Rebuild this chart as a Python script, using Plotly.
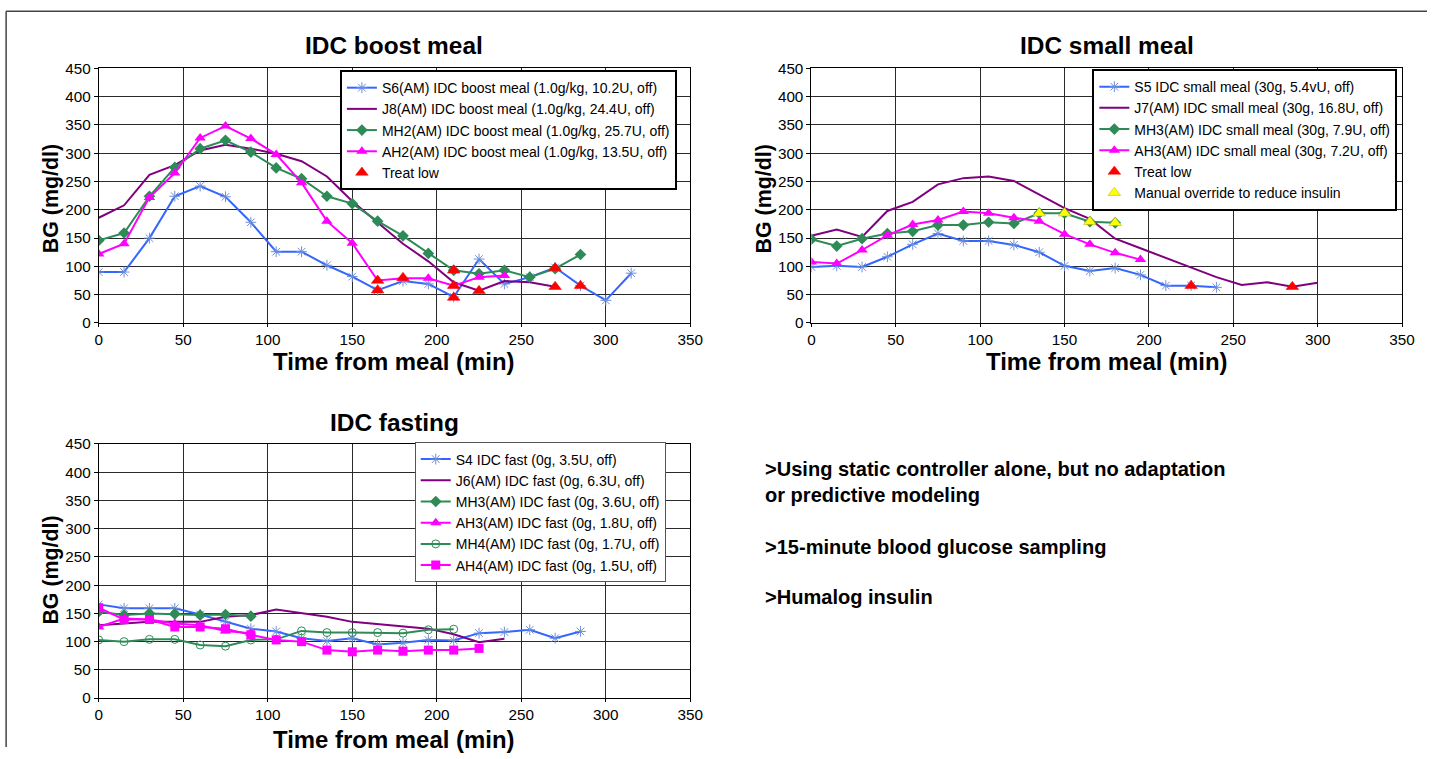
import plotly.graph_objects as go

# ---------------- Panel 1: IDC boost meal ----------------
s6_t = [0, 15, 30, 45, 60, 75, 90, 105, 120, 135, 150, 165, 180, 195, 210, 225, 240, 255, 270, 285, 300, 315]
s6_bg = [90, 90, 150, 224, 242, 223, 178, 126, 126, 102, 82, 58, 74, 69, 46, 113, 69, 81, 98, 66, 40, 88]
j8_t = [0, 15, 30, 45, 60, 75, 90, 105, 120, 135, 150, 165, 180, 195, 210, 225, 240, 255, 270]
j8_bg = [186, 208, 262, 279, 305, 315, 308, 299, 286, 259, 215, 177, 140, 109, 72, 57, 74, 72, 64]
mh2_t = [0, 15, 30, 45, 60, 75, 90, 105, 120, 135, 150, 165, 180, 195, 210, 225, 240, 255, 270, 285]
mh2_bg = [146, 159, 224, 275, 308, 323, 302, 274, 255, 224, 211, 180, 154, 123, 93, 87, 93, 81, 96, 121]
ah2_t = [0, 15, 30, 45, 60, 75, 90, 105, 120, 135, 150, 165, 180, 195, 210, 225, 240]
ah2_bg = [122, 140, 222, 265, 327, 348, 326, 298, 248, 180, 141, 75, 79, 79, 66, 81, 84]
low1_t = [165, 165, 180, 210, 210, 210, 225, 270, 270, 285]
low1_bg = [75, 58, 80, 93, 66, 45, 57, 97, 64, 66]

# ---------------- Panel 2: IDC small meal ----------------
s5_t = [0, 15, 30, 45, 60, 75, 90, 105, 120, 135, 150, 165, 180, 195, 210, 225, 240]
s5_bg = [99, 101, 99, 117, 139, 158, 145, 145, 138, 125, 101, 92, 97, 85, 66, 66, 63]
j7_t = [0, 15, 30, 45, 60, 75, 90, 105, 120, 135, 150, 165, 180, 195, 210, 225, 240, 255, 270, 285, 300]
j7_bg = [154, 165, 152, 198, 214, 245, 256, 259, 251, 227, 203, 184, 149, 132, 115, 99, 81, 67, 72, 64, 71]
mh3_t = [0, 15, 30, 45, 60, 75, 90, 105, 120, 135, 150, 165, 180]
mh3_bg = [148, 136, 149, 158, 162, 173, 173, 178, 176, 194, 194, 179, 177]
ah3_t = [0, 15, 30, 45, 60, 75, 90, 105, 120, 135, 150, 165, 180, 195]
ah3_bg = [108, 105, 129, 155, 174, 182, 197, 194, 186, 180, 157, 139, 124, 112]
low2_t = [225, 285]
low2_bg = [66, 64]
ovr_t = [135, 150, 165, 180]
ovr_bg = [194, 194, 179, 177]

# ---------------- Panel 3: IDC fasting ----------------
s4_t = [0, 15, 30, 45, 60, 75, 90, 105, 120, 135, 150, 165, 180, 195, 210, 225, 240, 255, 270, 285]
s4_bg = [166, 159, 159, 159, 148, 135, 123, 118, 106, 101, 106, 95, 98, 103, 102, 115, 117, 121, 106, 118]
j6_t = [0, 15, 30, 45, 60, 75, 90, 105, 120, 135, 150, 165, 180, 195, 210, 225, 240]
j6_bg = [129, 132, 135, 135, 135, 144, 147, 157, 150, 144, 135, 131, 127, 123, 113, 99, 105]
mh3f_t = [0, 15, 30, 45, 60, 75, 90]
mh3f_bg = [153, 147, 150, 149, 147, 148, 145]
ah3f_t = [0, 15, 30, 45, 60, 75, 90]
ah3f_bg = [126, 141, 139, 132, 129, 119, 115]
mh4_t = [0, 15, 30, 45, 60, 75, 90, 105, 120, 135, 150, 165, 180, 195, 210]
mh4_bg = [103, 100, 104, 104, 94, 92, 103, 104, 119, 116, 116, 116, 115, 121, 122]
ah4_t = [0, 15, 30, 45, 60, 75, 90, 105, 120, 135, 150, 165, 180, 195, 210, 225]
ah4_bg = [160, 139, 139, 126, 126, 123, 112, 103, 100, 85, 82, 85, 83, 85, 85, 88]

x_ticks = [0, 50, 100, 150, 200, 250, 300, 350]
y_ticks = [0, 50, 100, 150, 200, 250, 300, 350, 400, 450]

BLUE = "#3366FF"
PURPLE = "#800080"
GREEN = "#2E8B57"
MAGENTA = "#FF00FF"
RED = "#FF0000"
YELLOW = "#FFFF00"


def blue_tr(x, y, name, xa, ya, lg):
    return go.Scatter(x=x, y=y, name=name, mode="lines+markers", xaxis=xa, yaxis=ya, legend=lg,
                      line=dict(color=BLUE, width=2),
                      marker=dict(symbol="asterisk-open", size=9, color="#6f8fd8",
                                  line=dict(color="#6f8fd8", width=1)))


def purple_tr(x, y, name, xa, ya, lg):
    return go.Scatter(x=x, y=y, name=name, mode="lines", xaxis=xa, yaxis=ya, legend=lg,
                      line=dict(color=PURPLE, width=2))


def green_tr(x, y, name, xa, ya, lg, symbol="diamond"):
    if symbol == "circle-open":
        mk = dict(symbol="circle-open", size=8, color=GREEN, line=dict(color=GREEN, width=1))
    else:
        mk = dict(symbol="diamond", size=9, color=GREEN)
    return go.Scatter(x=x, y=y, name=name, mode="lines+markers", xaxis=xa, yaxis=ya, legend=lg,
                      line=dict(color=GREEN, width=2), marker=mk)


def magenta_tr(x, y, name, xa, ya, lg, symbol="triangle-up"):
    return go.Scatter(x=x, y=y, name=name, mode="lines+markers", xaxis=xa, yaxis=ya, legend=lg,
                      line=dict(color=MAGENTA, width=2),
                      marker=dict(symbol=symbol, size=10 if symbol == "triangle-up" else 9, color=MAGENTA))


def marker_tr(x, y, name, color, xa, ya, lg):
    return go.Scatter(x=x, y=y, name=name, mode="markers", xaxis=xa, yaxis=ya, legend=lg,
                      marker=dict(symbol="triangle-up", size=11, color=color,
                                  line=dict(color="#b0b000" if color == YELLOW else color, width=0.5)))


traces = [
    blue_tr(s6_t, s6_bg, "S6(AM) IDC boost meal (1.0g/kg, 10.2U, off)", "x", "y", "legend"),
    purple_tr(j8_t, j8_bg, "J8(AM) IDC boost meal (1.0g/kg, 24.4U, off)", "x", "y", "legend"),
    green_tr(mh2_t, mh2_bg, "MH2(AM) IDC boost meal (1.0g/kg, 25.7U, off)", "x", "y", "legend"),
    magenta_tr(ah2_t, ah2_bg, "AH2(AM) IDC boost meal (1.0g/kg, 13.5U, off)", "x", "y", "legend"),
    marker_tr(low1_t, low1_bg, "Treat low", RED, "x", "y", "legend"),

    blue_tr(s5_t, s5_bg, "S5 IDC small meal (30g, 5.4vU, off)", "x2", "y2", "legend2"),
    purple_tr(j7_t, j7_bg, "J7(AM) IDC small meal (30g, 16.8U, off)", "x2", "y2", "legend2"),
    green_tr(mh3_t, mh3_bg, "MH3(AM) IDC small meal (30g, 7.9U, off)", "x2", "y2", "legend2"),
    magenta_tr(ah3_t, ah3_bg, "AH3(AM) IDC small meal (30g, 7.2U, off)", "x2", "y2", "legend2"),
    marker_tr(low2_t, low2_bg, "Treat low", RED, "x2", "y2", "legend2"),
    marker_tr(ovr_t, ovr_bg, "Manual override to reduce insulin", YELLOW, "x2", "y2", "legend2"),

    blue_tr(s4_t, s4_bg, "S4 IDC fast (0g, 3.5U, off)", "x3", "y3", "legend3"),
    purple_tr(j6_t, j6_bg, "J6(AM) IDC fast (0g, 6.3U, off)", "x3", "y3", "legend3"),
    green_tr(mh3f_t, mh3f_bg, "MH3(AM) IDC fast (0g, 3.6U, off)", "x3", "y3", "legend3"),
    magenta_tr(ah3f_t, ah3f_bg, "AH3(AM) IDC fast (0g, 1.8U, off)", "x3", "y3", "legend3"),
    green_tr(mh4_t, mh4_bg, "MH4(AM) IDC fast (0g, 1.7U, off)", "x3", "y3", "legend3", symbol="circle-open"),
    magenta_tr(ah4_t, ah4_bg, "AH4(AM) IDC fast (0g, 1.5U, off)", "x3", "y3", "legend3", symbol="square"),
]

fig = go.Figure(data=traces)

# Layout positions are given in target-picture pixels and converted to paper
# fractions: the page keeps an 8px body margin and the capture comes out at a
# slightly reduced scale (KX, KY), which the conversion compensates for.
OFF = 8
KX, KY = 0.985, 0.979
W, H = 1440, 755
FONT = "Liberation Sans, Arial, sans-serif"
FS = 1 / 0.982


def px(x):
    return (x / KX - OFF) / W


def py(y):
    return 1 - (y / KY - OFF) / H


def xaxis_cfg(x0, x1, anchor):
    return dict(domain=[px(x0), px(x1)], anchor=anchor, range=[0, 350], tickvals=x_ticks,
                showgrid=True, gridcolor="#2a2a2a", gridwidth=1, zeroline=False,
                showline=True, linecolor="black", linewidth=1, mirror=True,
                ticks="outside", ticklen=3, tickcolor="black",
                tickfont=dict(size=15 * FS, color="black", family=FONT))


def yaxis_cfg(ytop, ybot, anchor):
    return dict(domain=[py(ybot), py(ytop)], anchor=anchor, range=[0, 450], tickvals=y_ticks,
                showgrid=True, gridcolor="#2a2a2a", gridwidth=1, zeroline=False,
                showline=True, linecolor="black", linewidth=1, mirror=True,
                ticks="outside", ticklen=4, tickcolor="black",
                tickfont=dict(size=15 * FS, color="black", family=FONT))


legend_common = dict(xanchor="left", yanchor="top", bgcolor="white",
                     font=dict(size=14, color="black", family=FONT), tracegroupgap=0)

fig.update_layout(
    width=W, height=H, autosize=False,
    margin=dict(l=0, r=0, t=0, b=0),
    paper_bgcolor="white", plot_bgcolor="white",
    font=dict(family=FONT, color="black"),
    xaxis=xaxis_cfg(102.3, 692.0, "y"),
    yaxis=yaxis_cfg(67.3, 322.3, "x"),
    xaxis2=xaxis_cfg(812.7, 1401.4, "y2"),
    yaxis2=yaxis_cfg(67.3, 322.3, "x2"),
    xaxis3=xaxis_cfg(102.3, 692.0, "y3"),
    yaxis3=yaxis_cfg(443.5, 698.0, "x3"),
    legend=dict(x=px(342.7), y=py(69), bordercolor="black", borderwidth=2, **legend_common),
    legend2=dict(x=px(1092.7), y=py(68), bordercolor="black", borderwidth=2, **legend_common),
    legend3=dict(x=px(417.3), y=py(442), bordercolor="#555555", borderwidth=1, **legend_common),
    showlegend=True,
)


def label(text, x, y, size, angle=0, anchor="center"):
    fig.add_annotation(text=text, x=px(x), y=py(y), xref="paper", yref="paper",
                       xanchor=anchor, yanchor="middle", align="left", textangle=angle,
                       showarrow=False, borderpad=0,
                       font=dict(size=size * FS, color="black", family=FONT))


# panel titles
label("<b>IDC boost meal</b>", 397, 44, 24)
label("<b>IDC small meal</b>", 1107, 44, 24)
label("<b>IDC fasting</b>", 397, 422, 24)

# axis titles
label("<b>Time from meal (min)</b>", 397, 361, 23.5)
label("<b>Time from meal (min)</b>", 1107, 361, 23.5)
label("<b>Time from meal (min)</b>", 397, 739, 23.5)
label("<b>BG (mg/dl)</b>", 55, 198, 21, angle=-90)
label("<b>BG (mg/dl)</b>", 765, 198, 21, angle=-90)
label("<b>BG (mg/dl)</b>", 55, 570, 21, angle=-90)

# notes
label("<b>>Using static controller alone, but no adaptation<br>or predictive modeling</b>", 765, 482, 19.7,
      anchor="left")
label("<b>>15-minute blood glucose sampling</b>", 765, 547, 19.7, anchor="left")
label("<b>>Humalog insulin</b>", 765, 597, 19.7, anchor="left")

# outer frame (top and left edges)
fig.add_shape(type="line", xref="paper", yref="paper", x0=px(10), x1=1, y0=py(10), y1=py(10),
              line=dict(color="#444444", width=1.5))
fig.add_shape(type="line", xref="paper", yref="paper", x0=px(10), x1=px(10), y0=0, y1=py(10),
              line=dict(color="#444444", width=1.5))

fig.write_html("out.html")
